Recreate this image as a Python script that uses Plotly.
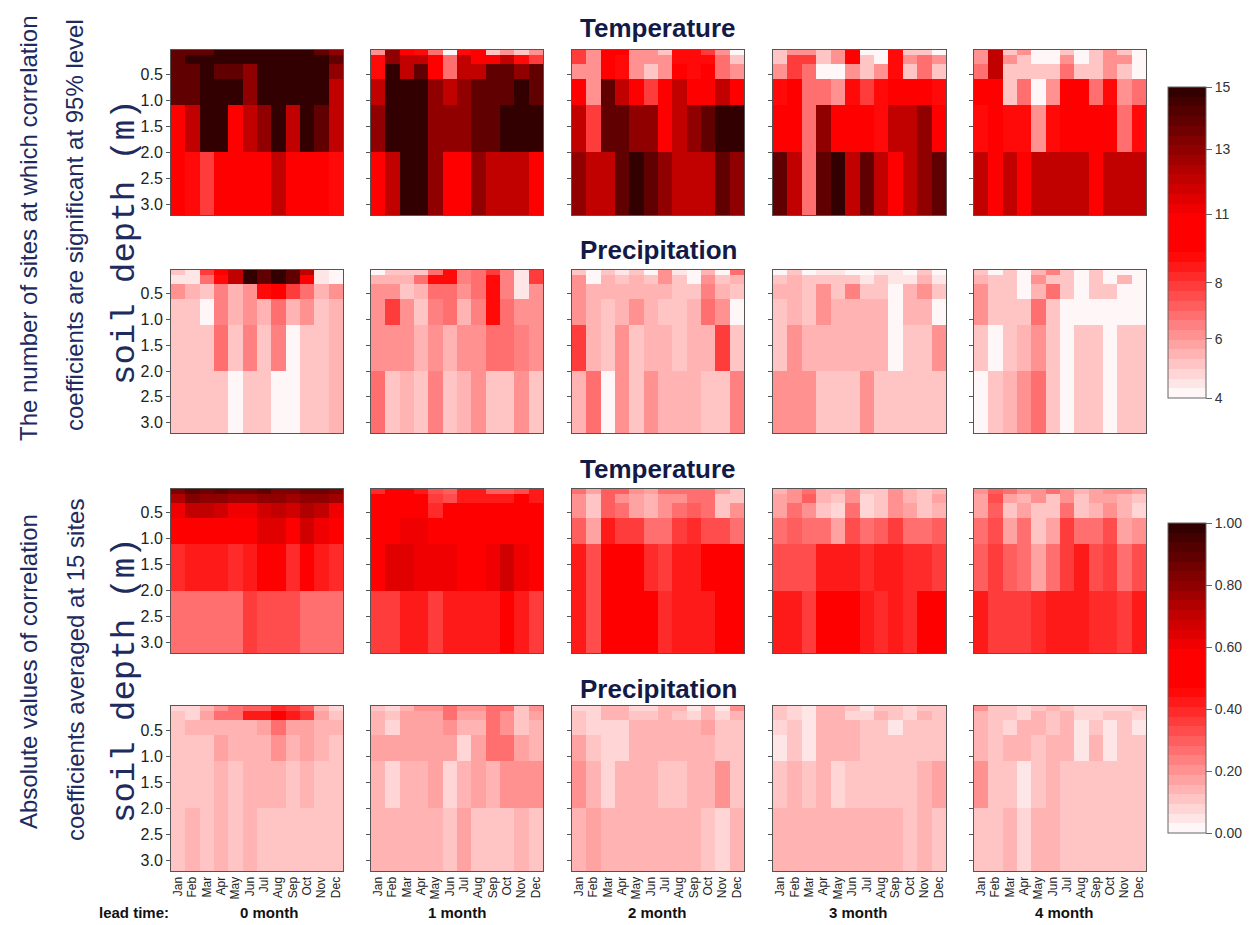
import numpy as np
import plotly.graph_objects as go

W, H = 1259, 925

months = ['Jan', 'Feb', 'Mar', 'Apr', 'May', 'Jun', 'Jul', 'Aug', 'Sep', 'Oct', 'Nov', 'Dec']
depth_edges = [0.04, 0.14, 0.31, 0.6, 1.1, 2.0, 3.2]
depth_ticks = [0.5, 1.0, 1.5, 2.0, 2.5, 3.0]
depth_ticktext = ['0.5', '1.0', '1.5', '2.0', '2.5', '3.0']
lead_labels = ['0 month', '1 month', '2 month', '3 month', '4 month']
count_tick_values = [4, 6, 8, 11, 13, 15]
count_tick_pos = [0.0, 0.19, 0.37, 0.59, 0.80, 1.0]
corr_tick_values = [0.0, 0.2, 0.4, 0.6, 0.8, 1.0]

# ---- number of significant sites, temperature (rows = soil layers top->bottom) ----
temp_cnt_0 = [
    [14, 14, 14, 15, 15, 15, 15, 15, 15, 15, 14, 13],
    [14, 15, 15, 15, 15, 15, 15, 15, 15, 15, 15, 14],
    [14, 14, 15, 14, 14, 13, 15, 15, 15, 15, 15, 13],
    [14, 14, 15, 15, 15, 13, 15, 15, 15, 15, 15, 12],
    [10, 12, 15, 15, 11, 12, 13, 15, 12, 15, 14, 12],
    [10, 9, 8, 11, 10, 11, 10, 12, 11, 10, 10, 9],
]
temp_cnt_1 = [
    [6, 13, 11, 9, 7, 4, 9, 11, 5, 6, 5, 6],
    [9, 13, 12, 12, 10, 7, 12, 11, 10, 12, 9, 8],
    [9, 15, 12, 14, 10, 7, 12, 12, 14, 14, 13, 14],
    [12, 15, 15, 15, 13, 12, 13, 14, 14, 14, 15, 14],
    [13, 15, 15, 15, 13, 13, 13, 14, 14, 15, 15, 15],
    [10, 12, 15, 15, 13, 11, 10, 13, 12, 12, 12, 11],
]
temp_cnt_2 = [
    [8, 6, 10, 10, 6, 6, 5, 9, 9, 8, 6, 4],
    [8, 6, 10, 9, 6, 6, 6, 9, 9, 9, 7, 5],
    [6, 6, 11, 9, 6, 5, 6, 10, 9, 10, 7, 6],
    [11, 6, 14, 12, 10, 8, 10, 12, 11, 10, 12, 10],
    [12, 8, 14, 14, 13, 13, 10, 12, 13, 14, 15, 15],
    [13, 12, 12, 14, 15, 14, 13, 12, 12, 12, 14, 13],
]
temp_cnt_3 = [
    [5, 6, 6, 5, 6, 10, 4, 4, 9, 5, 5, 4],
    [5, 8, 8, 5, 6, 10, 5, 4, 9, 6, 7, 6],
    [6, 8, 7, 4, 4, 6, 5, 6, 9, 5, 7, 5],
    [9, 10, 7, 7, 6, 9, 8, 9, 11, 10, 10, 9],
    [10, 10, 7, 13, 11, 11, 11, 9, 12, 12, 13, 10],
    [14, 12, 7, 14, 15, 12, 14, 12, 11, 12, 13, 14],
]
temp_cnt_4 = [
    [6, 12, 5, 6, 4, 4, 5, 4, 5, 6, 5, 4],
    [6, 12, 6, 5, 4, 4, 6, 4, 5, 6, 6, 4],
    [7, 12, 5, 5, 5, 5, 7, 5, 5, 6, 5, 4],
    [10, 11, 5, 7, 4, 6, 10, 10, 7, 9, 6, 7],
    [9, 10, 9, 9, 6, 9, 11, 10, 10, 11, 7, 9],
    [12, 11, 12, 11, 12, 12, 12, 12, 10, 12, 12, 12],
]

# ---- number of significant sites, precipitation ----
prcp_cnt_0 = [
    [5, 4.5, 8, 10, 12, 15, 14, 15, 14, 12, 4.5, 4],
    [4.5, 4.5, 7, 9, 12, 15, 14, 15, 14, 11, 4.5, 4],
    [6, 5.5, 5, 6.5, 5.5, 6, 9, 10, 8, 7, 5.5, 6],
    [5, 5, 4, 6.5, 5.5, 6, 5.5, 7, 5.5, 6, 5, 5.5],
    [5, 5, 5, 7, 5, 6.5, 5, 6.5, 4, 5, 5, 5.5],
    [5, 5, 5, 5, 4, 5, 5, 4, 4, 5, 5, 5.5],
]
prcp_cnt_1 = [
    [4, 5, 5, 5, 7, 9, 6.5, 7, 8, 6.5, 4.5, 8],
    [5.5, 5.5, 5.5, 7, 9, 9, 6.5, 7, 9, 6.5, 4.5, 8],
    [6, 6, 5, 5.5, 7, 7, 6, 7, 9, 6.5, 4.5, 6],
    [6, 8, 6, 5, 6.5, 7, 5.5, 6.5, 9, 7, 6, 6],
    [6, 6, 6, 5.5, 6, 5.5, 6, 6, 7, 7, 6.5, 6],
    [7, 5, 5.5, 5, 6.5, 5, 5.5, 6, 5, 5, 6, 5],
]
prcp_cnt_2 = [
    [5, 4, 5, 4.5, 5, 4, 6, 4.5, 4, 5.5, 4, 7],
    [6, 4, 5.5, 5, 5.5, 5, 6, 5, 4, 6, 5, 5.5],
    [6, 5.5, 5.5, 5.5, 5.5, 5.5, 5.5, 5, 5, 6.5, 5.5, 5],
    [6, 5.5, 5, 5.5, 6, 5.5, 5, 5, 5.5, 7, 6, 4],
    [8, 5.5, 5, 6, 5, 5.5, 5.5, 5, 5.5, 5.5, 8, 5],
    [5.5, 7, 4, 6, 5, 6, 5.5, 5.5, 5.5, 5, 5, 6.5],
]
prcp_cnt_3 = [
    [4, 5, 4, 4.5, 4.5, 4, 4, 4.5, 4.5, 4, 5, 4],
    [5, 5.5, 5, 5, 5, 5, 4.5, 5, 4.5, 4.5, 5.5, 4.5],
    [5.5, 5.5, 5, 6, 5, 6.5, 5, 5, 4, 5.5, 6, 5],
    [5, 5.5, 5, 6, 5.5, 5.5, 5.5, 5.5, 4, 5.5, 5.5, 4],
    [5, 6, 5.5, 5.5, 5.5, 5.5, 5.5, 5.5, 4, 5, 5, 6],
    [6, 6, 6, 5, 5, 5, 6, 5, 5, 5, 5, 5],
]
prcp_cnt_4 = [
    [5, 4, 5, 4, 5.5, 6.5, 5, 4, 5, 4, 4, 4],
    [5.5, 5, 5, 4, 6, 5, 5, 4, 5, 4, 5.5, 4],
    [6, 5, 5, 4, 5.5, 7, 5, 4, 5, 5, 4, 4],
    [6, 5, 5, 5, 7, 5, 4, 4, 4, 4, 4, 4],
    [5, 4, 5, 5.5, 6, 5, 4, 5, 5, 4, 5, 5],
    [4, 5, 5.5, 6, 7, 5, 4, 5, 5, 4, 5, 5],
]

# ---- absolute correlation averaged at 15 sites, temperature ----
temp_abs_0 = [
    [0.82, 0.90, 0.85, 0.88, 0.85, 0.85, 0.88, 0.82, 0.82, 0.85, 0.85, 0.82],
    [0.73, 0.82, 0.79, 0.79, 0.76, 0.76, 0.79, 0.79, 0.76, 0.79, 0.79, 0.76],
    [0.60, 0.70, 0.70, 0.67, 0.60, 0.60, 0.67, 0.70, 0.67, 0.73, 0.70, 0.60],
    [0.58, 0.58, 0.58, 0.58, 0.58, 0.58, 0.64, 0.64, 0.58, 0.67, 0.60, 0.58],
    [0.40, 0.43, 0.43, 0.43, 0.40, 0.43, 0.47, 0.50, 0.40, 0.47, 0.43, 0.40],
    [0.28, 0.28, 0.25, 0.28, 0.28, 0.37, 0.34, 0.34, 0.34, 0.28, 0.28, 0.28],
]
temp_abs_1 = [
    [0.40, 0.55, 0.50, 0.43, 0.34, 0.31, 0.43, 0.43, 0.31, 0.31, 0.34, 0.43],
    [0.47, 0.55, 0.47, 0.47, 0.37, 0.34, 0.43, 0.43, 0.43, 0.43, 0.50, 0.43],
    [0.55, 0.55, 0.55, 0.55, 0.40, 0.55, 0.55, 0.55, 0.55, 0.55, 0.55, 0.55],
    [0.58, 0.58, 0.60, 0.60, 0.58, 0.58, 0.58, 0.58, 0.58, 0.58, 0.58, 0.58],
    [0.58, 0.63, 0.63, 0.62, 0.61, 0.61, 0.58, 0.58, 0.61, 0.67, 0.61, 0.58],
    [0.37, 0.37, 0.43, 0.43, 0.37, 0.43, 0.43, 0.43, 0.43, 0.47, 0.43, 0.37],
]
temp_abs_2 = [
    [0.25, 0.18, 0.31, 0.31, 0.21, 0.18, 0.25, 0.25, 0.28, 0.28, 0.18, 0.12],
    [0.21, 0.12, 0.31, 0.21, 0.18, 0.15, 0.21, 0.21, 0.28, 0.28, 0.12, 0.12],
    [0.21, 0.12, 0.31, 0.25, 0.18, 0.15, 0.21, 0.25, 0.31, 0.28, 0.12, 0.21],
    [0.31, 0.18, 0.43, 0.37, 0.37, 0.28, 0.28, 0.37, 0.40, 0.34, 0.34, 0.28],
    [0.43, 0.34, 0.55, 0.55, 0.55, 0.40, 0.37, 0.43, 0.43, 0.47, 0.47, 0.47],
    [0.43, 0.34, 0.55, 0.55, 0.55, 0.47, 0.40, 0.43, 0.43, 0.43, 0.50, 0.55],
]
temp_abs_3 = [
    [0.15, 0.21, 0.25, 0.15, 0.15, 0.21, 0.12, 0.12, 0.21, 0.15, 0.12, 0.15],
    [0.18, 0.21, 0.31, 0.15, 0.12, 0.21, 0.09, 0.12, 0.21, 0.15, 0.12, 0.18],
    [0.18, 0.25, 0.21, 0.12, 0.09, 0.25, 0.09, 0.12, 0.21, 0.18, 0.12, 0.15],
    [0.25, 0.31, 0.25, 0.25, 0.18, 0.34, 0.25, 0.31, 0.37, 0.28, 0.28, 0.31],
    [0.34, 0.34, 0.34, 0.43, 0.43, 0.43, 0.40, 0.43, 0.43, 0.40, 0.40, 0.37],
    [0.43, 0.43, 0.37, 0.55, 0.55, 0.47, 0.43, 0.40, 0.43, 0.40, 0.47, 0.55],
]
temp_abs_4 = [
    [0.21, 0.31, 0.25, 0.21, 0.21, 0.25, 0.21, 0.15, 0.18, 0.21, 0.21, 0.18],
    [0.18, 0.34, 0.18, 0.15, 0.21, 0.12, 0.21, 0.12, 0.18, 0.18, 0.15, 0.12],
    [0.18, 0.31, 0.12, 0.18, 0.12, 0.12, 0.28, 0.12, 0.15, 0.21, 0.15, 0.09],
    [0.25, 0.34, 0.18, 0.25, 0.12, 0.18, 0.37, 0.25, 0.28, 0.34, 0.18, 0.21],
    [0.31, 0.37, 0.31, 0.28, 0.18, 0.25, 0.37, 0.43, 0.34, 0.37, 0.28, 0.34],
    [0.43, 0.37, 0.37, 0.37, 0.40, 0.43, 0.43, 0.43, 0.40, 0.40, 0.37, 0.43],
]

# ---- absolute correlation averaged at 15 sites, precipitation ----
prcp_abs_0 = [
    [0.09, 0.09, 0.15, 0.21, 0.25, 0.31, 0.31, 0.40, 0.37, 0.31, 0.15, 0.09],
    [0.12, 0.09, 0.18, 0.25, 0.28, 0.43, 0.43, 0.50, 0.43, 0.37, 0.18, 0.12],
    [0.12, 0.15, 0.15, 0.15, 0.15, 0.15, 0.18, 0.25, 0.18, 0.18, 0.15, 0.15],
    [0.12, 0.12, 0.12, 0.18, 0.15, 0.15, 0.15, 0.21, 0.15, 0.18, 0.15, 0.12],
    [0.12, 0.12, 0.12, 0.15, 0.12, 0.15, 0.15, 0.15, 0.12, 0.15, 0.12, 0.12],
    [0.12, 0.15, 0.12, 0.15, 0.12, 0.15, 0.12, 0.12, 0.12, 0.12, 0.12, 0.12],
]
prcp_abs_1 = [
    [0.12, 0.09, 0.15, 0.21, 0.21, 0.25, 0.21, 0.21, 0.25, 0.25, 0.12, 0.21],
    [0.15, 0.12, 0.18, 0.18, 0.18, 0.25, 0.18, 0.18, 0.25, 0.21, 0.12, 0.18],
    [0.15, 0.09, 0.18, 0.18, 0.18, 0.21, 0.15, 0.15, 0.25, 0.21, 0.12, 0.15],
    [0.18, 0.18, 0.18, 0.18, 0.18, 0.18, 0.09, 0.18, 0.25, 0.28, 0.18, 0.15],
    [0.15, 0.09, 0.15, 0.15, 0.18, 0.09, 0.15, 0.18, 0.15, 0.21, 0.21, 0.21],
    [0.15, 0.15, 0.15, 0.15, 0.15, 0.12, 0.18, 0.12, 0.12, 0.12, 0.15, 0.12],
]
prcp_abs_2 = [
    [0.09, 0.09, 0.15, 0.15, 0.09, 0.09, 0.15, 0.15, 0.06, 0.15, 0.06, 0.21],
    [0.12, 0.09, 0.15, 0.15, 0.12, 0.12, 0.15, 0.12, 0.09, 0.15, 0.09, 0.15],
    [0.12, 0.09, 0.09, 0.09, 0.15, 0.15, 0.15, 0.15, 0.15, 0.18, 0.12, 0.12],
    [0.18, 0.12, 0.09, 0.09, 0.15, 0.15, 0.15, 0.15, 0.15, 0.15, 0.12, 0.12],
    [0.21, 0.15, 0.09, 0.15, 0.15, 0.15, 0.12, 0.12, 0.15, 0.15, 0.21, 0.12],
    [0.15, 0.18, 0.15, 0.15, 0.15, 0.15, 0.15, 0.15, 0.15, 0.12, 0.09, 0.15],
]
prcp_abs_3 = [
    [0.12, 0.09, 0.06, 0.15, 0.15, 0.12, 0.06, 0.12, 0.12, 0.09, 0.12, 0.12],
    [0.12, 0.09, 0.06, 0.15, 0.15, 0.09, 0.09, 0.15, 0.12, 0.09, 0.15, 0.12],
    [0.09, 0.12, 0.06, 0.15, 0.15, 0.15, 0.12, 0.12, 0.06, 0.12, 0.12, 0.12],
    [0.06, 0.12, 0.06, 0.15, 0.15, 0.15, 0.12, 0.12, 0.12, 0.12, 0.12, 0.12],
    [0.12, 0.15, 0.12, 0.15, 0.09, 0.12, 0.12, 0.12, 0.12, 0.12, 0.15, 0.18],
    [0.15, 0.15, 0.15, 0.15, 0.15, 0.15, 0.15, 0.15, 0.15, 0.12, 0.15, 0.12],
]
prcp_abs_4 = [
    [0.21, 0.12, 0.12, 0.09, 0.12, 0.15, 0.12, 0.09, 0.09, 0.09, 0.09, 0.12],
    [0.15, 0.12, 0.12, 0.09, 0.15, 0.12, 0.15, 0.09, 0.09, 0.12, 0.12, 0.09],
    [0.15, 0.12, 0.09, 0.15, 0.15, 0.12, 0.15, 0.06, 0.12, 0.06, 0.12, 0.06],
    [0.15, 0.12, 0.15, 0.15, 0.12, 0.15, 0.15, 0.06, 0.15, 0.06, 0.12, 0.12],
    [0.21, 0.12, 0.12, 0.06, 0.12, 0.15, 0.12, 0.12, 0.12, 0.12, 0.12, 0.12],
    [0.12, 0.12, 0.15, 0.09, 0.15, 0.15, 0.12, 0.12, 0.12, 0.12, 0.12, 0.12],
]

panel_rows_data = [
    ([temp_cnt_0, temp_cnt_1, temp_cnt_2, temp_cnt_3, temp_cnt_4], 'count'),
    ([prcp_cnt_0, prcp_cnt_1, prcp_cnt_2, prcp_cnt_3, prcp_cnt_4], 'count'),
    ([temp_abs_0, temp_abs_1, temp_abs_2, temp_abs_3, temp_abs_4], 'corr'),
    ([prcp_abs_0, prcp_abs_1, prcp_abs_2, prcp_abs_3, prcp_abs_4], 'corr'),
]

# ---------------- layout geometry (pixels) ----------------
col_px = [(171, 343), (371, 543), (572, 744), (773, 946), (974, 1146)]
row_px = [(50, 215), (270, 433), (489, 653), (706, 871)]


def base_color(p):
    p = min(max(p, 0.0), 1.0)
    if p < 0.47:
        g = int(round(255 * (1 - p / 0.47)))
        return f'rgb(255,{g},{g})'
    if p < 0.58:
        return 'rgb(255,0,0)'
    r = int(round(255 - 213 * (p - 0.58) / 0.42))
    return f'rgb({r},0,0)'


NB = 32
banded = []
for i in range(NB):
    col = base_color((i + 0.5) / NB)
    banded.append([i / NB, col])
    banded.append([(i + 1) / NB, col])

fig = go.Figure()
layout_axes = {}
for r, (panels, kind) in enumerate(panel_rows_data):
    for c, data in enumerate(panels):
        idx = r * 5 + c + 1
        arr = np.array(data, dtype=float)
        if kind == 'count':
            z = np.interp(arr, count_tick_values, count_tick_pos)
            cax = 'coloraxis'
        else:
            z = arr
            cax = 'coloraxis2'
        fig.add_trace(go.Heatmap(
            z=z, x=months, y=depth_edges, coloraxis=cax,
            xaxis=f'x{idx}', yaxis=f'y{idx}', hoverinfo='skip'))
        x0, x1 = col_px[c]
        y0, y1 = row_px[r]
        sfx = '' if idx == 1 else str(idx)
        layout_axes[f'xaxis{sfx}'] = dict(
            domain=[x0 / W, x1 / W], anchor=f'y{idx}', type='category',
            range=[-0.5, 11.5], showticklabels=(r == 3), tickangle=-90,
            tickfont=dict(family='Liberation Sans', size=12, color='#222'),
            ticks='', showline=True, mirror=True, linecolor='#555', linewidth=1,
            showgrid=False, zeroline=False, fixedrange=True)
        layout_axes[f'yaxis{sfx}'] = dict(
            domain=[1 - y1 / H, 1 - y0 / H], anchor=f'x{idx}',
            range=[depth_edges[-1], depth_edges[0]],
            tickvals=depth_ticks, ticktext=depth_ticktext,
            showticklabels=(c == 0), ticks='outside', ticklen=4, tickcolor='#555',
            tickfont=dict(family='Liberation Sans', size=16, color='#222'),
            showline=True, mirror=True, linecolor='#555', linewidth=1,
            showgrid=False, zeroline=False, fixedrange=True)

cb_common = dict(xanchor='left', yanchor='top', lenmode='fraction',
                 thickness=38, thicknessmode='pixels', xpad=0, ypad=0,
                 outlinewidth=1, outlinecolor='#666', ticks='outside',
                 ticklen=6, tickcolor='#666',
                 tickfont=dict(family='Liberation Sans', size=14, color='#333'))

fig.update_layout(
    width=W, height=H, margin=dict(l=0, r=0, t=0, b=0),
    paper_bgcolor='white', plot_bgcolor='white', showlegend=False,
    coloraxis=dict(cmin=0, cmax=1, colorscale=banded,
                   colorbar=dict(x=1168 / W, y=1 - 87 / H, len=311 / H,
                                 tickvals=count_tick_pos,
                                 ticktext=[str(v) for v in count_tick_values],
                                 **cb_common)),
    coloraxis2=dict(cmin=0, cmax=1, colorscale=banded,
                    colorbar=dict(x=1168 / W, y=1 - 523 / H, len=310 / H,
                                  tickvals=corr_tick_values,
                                  ticktext=[f'{v:.2f}' for v in corr_tick_values],
                                  **cb_common)),
    **layout_axes,
)

ann = []
title_font = dict(family='Liberation Sans', size=26, color='#141a46')
for text, yc in [('Temperature', 28), ('Precipitation', 250),
                 ('Temperature', 469), ('Precipitation', 689)]:
    ann.append(dict(text=f'<b>{text}</b>', x=658 / W, y=1 - yc / H, xref='paper', yref='paper',
                    xanchor='center', yanchor='middle', showarrow=False, font=title_font))

depth_font = dict(family='Liberation Mono', size=34, color='#1d2b5e')
for yc in [242, 680]:
    ann.append(dict(text='soil depth (m)', x=125 / W, y=1 - yc / H, xref='paper', yref='paper',
                    xanchor='center', yanchor='middle', textangle=-90, showarrow=False,
                    font=depth_font))

side_font = dict(family='Liberation Sans', size=24, color='#1d2b5e')
for text, xc, yc in [('The number of sites at which correlation', 28, 228),
                     ('coefficients are significant at 95% level', 75, 225),
                     ('Absolute values of correlation', 28, 672),
                     ('coefficients averaged at 15 sites', 75, 670)]:
    ann.append(dict(text=text, x=xc / W, y=1 - yc / H, xref='paper', yref='paper',
                    xanchor='center', yanchor='middle', textangle=-90, showarrow=False,
                    font=side_font))

bottom_font = dict(family='Liberation Sans', size=15, color='#111', weight='bold')
ann.append(dict(text='lead time:', x=134 / W, y=1 - 912 / H, xref='paper', yref='paper',
                xanchor='center', yanchor='middle', showarrow=False, font=bottom_font))
for text, xc in zip(lead_labels, [269, 457, 657, 858, 1064]):
    ann.append(dict(text=text, x=xc / W, y=1 - 912 / H, xref='paper', yref='paper',
                    xanchor='center', yanchor='middle', showarrow=False, font=bottom_font))

fig.update_layout(annotations=ann)
fig.write_html('out.html', config={'displayModeBar': False},
               post_script="document.body.style.margin='0px';document.body.style.overflow='hidden';")
